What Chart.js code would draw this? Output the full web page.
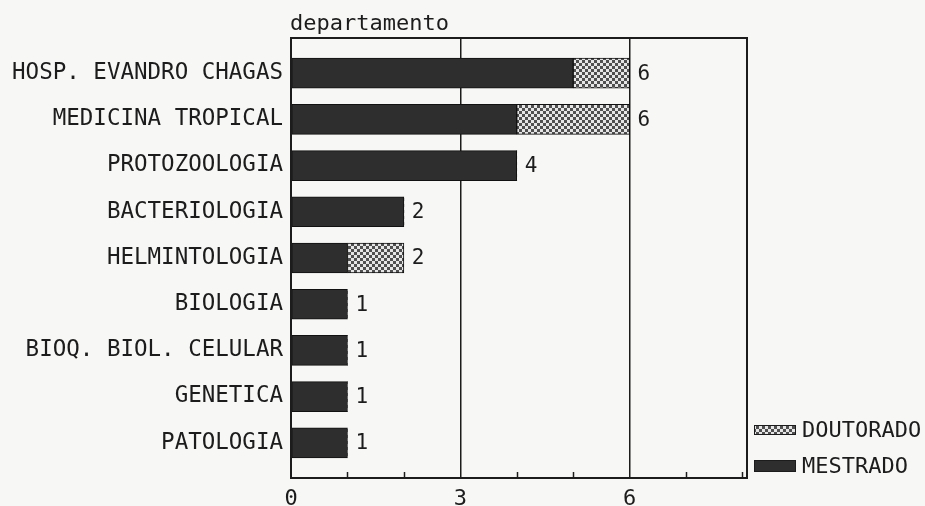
<!DOCTYPE html>
<html>
<head>
<meta charset="utf-8">
<script src="https://cdn.jsdelivr.net/npm/chart.js@4/dist/chart.umd.min.js"></script>
<style>
  html, body { margin: 0; padding: 0; background: #f7f7f5; }
  #wrap { width: 925px; height: 506px; position: relative; }
</style>
</head>
<body>
<div id="wrap"><canvas id="c" width="925" height="506"></canvas></div>
<script>
// ---- data ----
const categories = [
  'HOSP. EVANDRO CHAGAS',
  'MEDICINA TROPICAL',
  'PROTOZOOLOGIA',
  'BACTERIOLOGIA',
  'HELMINTOLOGIA',
  'BIOLOGIA',
  'BIOQ. BIOL. CELULAR',
  'GENETICA',
  'PATOLOGIA'
];
const mestrado  = [5, 4, 4, 2, 1, 1, 1, 1, 1];
const doutorado = [1, 2, 0, 0, 1, 0, 0, 0, 0];
const seriesNames = ['MESTRADO', 'DOUTORADO'];
const xTickValues = [0, 3, 6];
const axisTitle = 'departamento';

// ---- styles ----
const FONT = '"DejaVu Sans Mono", "Liberation Mono", monospace';
const INK = '#1c1c1c';
const DARK = '#2e2e2e';

function makePattern() {
  const t = document.createElement('canvas');
  t.width = 6; t.height = 6;
  const g = t.getContext('2d');
  g.fillStyle = '#e6e6e6'; g.fillRect(0, 0, 6, 6);
  g.fillStyle = '#505050';
  g.fillRect(0, 0, 3, 3);
  g.fillRect(3, 3, 3, 3);
  return document.getElementById('c').getContext('2d').createPattern(t, 'repeat');
}
const dotted = makePattern();

const bgPlugin = {
  id: 'bg',
  beforeDraw(chart) {
    const ctx = chart.ctx;
    ctx.save();
    ctx.fillStyle = '#f7f7f5';
    ctx.fillRect(0, 0, chart.width, chart.height);
    ctx.restore();
  }
};

const decorPlugin = {
  id: 'decor',
  afterDatasetsDraw(chart) {
    const ctx = chart.ctx;
    const a = chart.chartArea;
    const xs = chart.scales.x, ys = chart.scales.y;
    ctx.save();
    // frame
    ctx.strokeStyle = INK;
    ctx.lineWidth = 2;
    ctx.strokeRect(a.left, a.top, a.right - a.left, a.bottom - a.top);
    // minor ticks (inward)
    ctx.lineWidth = 1.5;
    for (let v = Math.ceil(xs.min) + 1; v < xs.max; v++) {
      if (xTickValues.includes(v)) continue;
      const px = Math.round(xs.getPixelForValue(v)) + 0.5;
      ctx.beginPath();
      ctx.moveTo(px, a.bottom);
      ctx.lineTo(px, a.bottom - 6);
      ctx.stroke();
    }
    // totals
    ctx.fillStyle = INK;
    ctx.font = '21px ' + FONT;
    ctx.textAlign = 'left';
    ctx.textBaseline = 'middle';
    categories.forEach((c, i) => {
      const total = mestrado[i] + doutorado[i];
      ctx.fillText(String(total), xs.getPixelForValue(total) + 8, ys.getPixelForValue(i) + 1);
    });
    ctx.restore();
  },
  afterDraw(chart) {
    const ctx = chart.ctx;
    const a = chart.chartArea;
    ctx.save();
    ctx.fillStyle = INK;
    ctx.font = '22px ' + FONT;
    ctx.textAlign = 'left';
    ctx.textBaseline = 'alphabetic';
    ctx.fillText(axisTitle, a.left - 1, 30);
    // legend (reverse order: DOUTORADO on top)
    const ds = chart.data.datasets;
    const items = [ds[1], ds[0]];
    const boxX = a.right + 7;
    const rows = [430, 466];
    items.forEach((d, k) => {
      const cy = rows[k];
      const h = k === 0 ? 10 : 12;
      ctx.fillStyle = d.backgroundColor;
      ctx.fillRect(boxX, cy - h / 2, 42, h);
      ctx.strokeStyle = INK;
      ctx.lineWidth = 1;
      ctx.strokeRect(boxX + 0.5, cy - h / 2 + 0.5, 41, h - 1);
      ctx.fillStyle = INK;
      ctx.font = '22px ' + FONT;
      ctx.textBaseline = 'middle';
      ctx.fillText(d.label, boxX + 48, cy + 1);
    });
    ctx.restore();
  }
};

const zeroless = (ctx) => (ctx.raw && ctx.raw.x === 0) ? 0 : 1;

new Chart(document.getElementById('c'), {
  type: 'bar',
  data: {
    datasets: [
      {
        label: seriesNames[0],
        data: mestrado.map((v, i) => ({ x: v, y: i })),
        backgroundColor: DARK,
        borderColor: '#111',
        borderWidth: zeroless,
        borderSkipped: false,
        barThickness: 30
      },
      {
        label: seriesNames[1],
        data: doutorado.map((v, i) => ({ x: v, y: i })),
        backgroundColor: dotted,
        borderColor: '#111',
        borderWidth: zeroless,
        borderSkipped: false,
        barThickness: 30
      }
    ]
  },
  options: {
    indexAxis: 'y',
    responsive: false,
    animation: false,
    devicePixelRatio: 1,
    layout: { padding: { top: 38, right: 178, bottom: 0, left: 0 } },
    plugins: {
      legend: { display: false },
      tooltip: { enabled: false },
      title: { display: false }
    },
    scales: {
      x: {
        type: 'linear',
        stacked: true,
        min: 0,
        max: 8.08,
        afterBuildTicks: (s) => { s.ticks = xTickValues.map(v => ({ value: v })); },
        afterFit: (s) => { s.height = 28; },
        grid: {
          color: (c) => (c.tick && c.tick.value > 0) ? INK : 'rgba(0,0,0,0)',
          lineWidth: 1.5,
          drawTicks: false
        },
        border: { display: false },
        ticks: {
          color: INK,
          font: { family: FONT, size: 22 },
          padding: 8,
          maxRotation: 0
        }
      },
      y: {
        type: 'linear',
        stacked: true,
        reverse: true,
        offset: false,
        min: -0.76,
        max: 8.76,
        afterBuildTicks: (s) => { s.ticks = categories.map((c, i) => ({ value: i })); },
        afterFit: (s) => { s.width = 291; },
        grid: { display: false, drawTicks: false, offset: false },
        border: { display: false },
        ticks: {
          color: INK,
          font: { family: FONT, size: 22.5 },
          padding: 8,
          callback: (v) => categories[v] !== undefined ? categories[v] : ''
        }
      }
    }
  },
  plugins: [bgPlugin, decorPlugin]
});
</script>
</body>
</html>
